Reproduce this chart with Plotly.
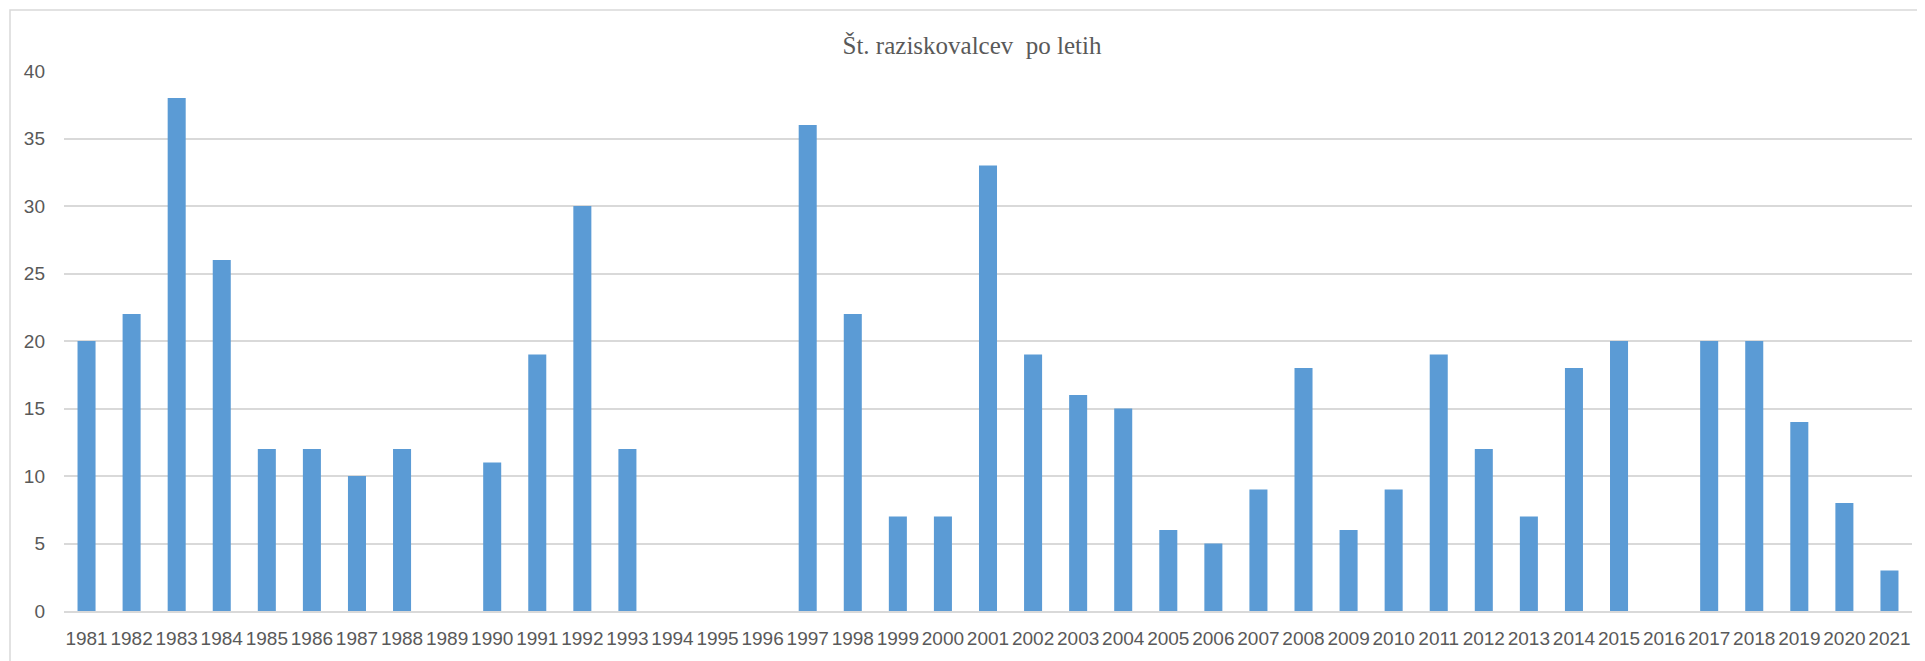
import plotly.graph_objects as go

years = [str(y) for y in range(1981, 2022)]
counts = [20, 22, 38, 26, 12, 12, 10, 12, 0, 11, 19, 30, 12, 0, 0, 0, 36, 22, 7, 7,
          33, 19, 16, 15, 6, 5, 9, 18, 6, 9, 19, 12, 7, 18, 20, 0, 20, 20, 14, 8, 3]
title_text = "Št. raziskovalcev  po letih"

# page body has an 8px default margin; compensate so the picture lines up
OFF = 8
W, H = 1925 - OFF, 661 - OFF
L, R, T, B = 64 - OFF, 13, 71 - OFF, 50
pw, ph = W - L - R, H - T - B

fig = go.Figure(go.Bar(x=years, y=counts,
                       marker=dict(color="#5B9BD5", line=dict(width=0)),
                       hoverinfo="x+y"))

fig.update_layout(
    width=W, height=H,
    margin=dict(l=L, r=R, t=T, b=B),
    paper_bgcolor="white", plot_bgcolor="white",
    bargap=0.6,
    showlegend=False,
    title=dict(text=title_text, x=(972 - OFF - L) / pw, xref="paper", xanchor="center",
               y=1 - (45 - OFF) / H, yref="container", yanchor="middle",
               font=dict(family="Liberation Serif", size=25, color="#595959")),
    font=dict(family="Liberation Sans", size=19, color="#595959"),
    shapes=[dict(type="rect", xref="paper", yref="paper",
                 x0=(10 - OFF - L) / pw, x1=2, y0=-1, y1=1 + (T - (10 - OFF)) / ph,
                 line=dict(color="#d9d9d9", width=1.5), layer="below")],
)
fig.update_xaxes(type="category", showgrid=False, showline=True, linecolor="#d9d9d9",
                 linewidth=2, ticks="", tickangle=0, ticklabelstandoff=9,
                 tickfont=dict(size=19, color="#595959"))
fig.update_yaxes(range=[0, 40], dtick=5, showgrid=True, gridcolor="#d9d9d9", gridwidth=1.5,
                 zeroline=False, showline=False, ticks="", ticklabelstandoff=18,
                 tickfont=dict(size=19, color="#595959"))

fig.write_html("out.html")
